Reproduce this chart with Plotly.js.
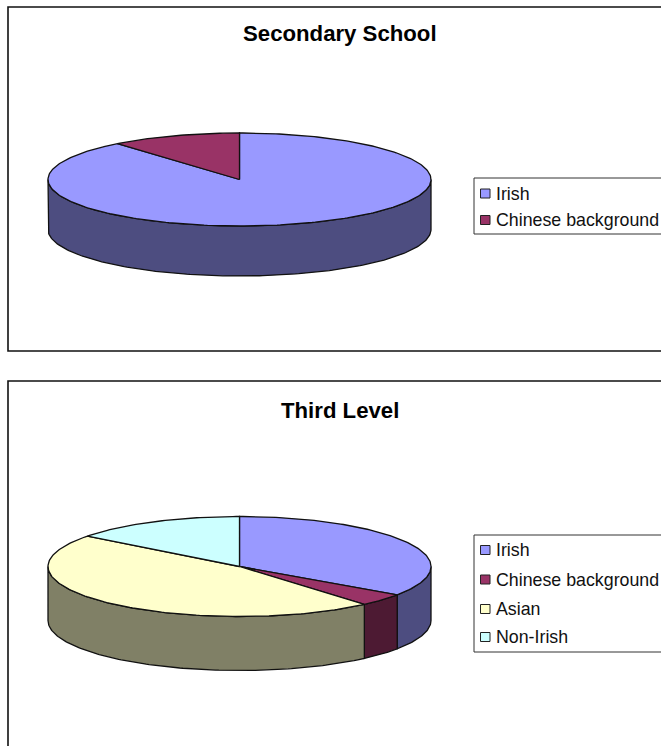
<!DOCTYPE html>
<html>
<head>
<meta charset="utf-8">
<script src="https://cdn.plot.ly/plotly-3.0.1.min.js"></script>
<style>html,body{margin:0;padding:0;background:#fff;overflow:hidden}#chart{width:661px;height:746px}</style>
</head>
<body>
<div id="chart"></div>
<script>
// Data
const secondaryCategories = ['Irish', 'Chinese background'];
const secondaryValues = [89, 11];
const thirdCategories = ['Irish', 'Chinese background', 'Asian', 'Non-Irish'];
const thirdValues = [34.6, 4.1, 46.7, 14.6];
const topColors = ['#9999FF', '#993366', '#FFFFCC', '#CCFFFF'];
const sideColors = ['#4D4D80', '#4D1A33', '#808066', '#668080'];

// Layout (pixel-valued axes)
const W = 661, H = 746;
const panels = [
  {title: 'Secondary School', titleY: 33, cats: secondaryCategories, vals: secondaryValues,
   cx: 239.5, cy: 179.5, rx: 191.5, ry: 46.5, depth: 50,
   frame: [8, 7, 351], legend: [474, 178, 234], rows: [193.5, 220]},
  {title: 'Third Level', titleY: 410, cats: thirdCategories, vals: thirdValues,
   cx: 239.5, cy: 566.5, rx: 191.5, ry: 50, depth: 54,
   frame: [8, 381, 760], legend: [474, 535, 652], rows: [550, 579.5, 609, 637]}
];

const traces = [], shapes = [], annotations = [];
const INK = '#111111';

function pt(p, deg, dz) {
  const a = deg * Math.PI / 180;
  return [p.cx + p.rx * Math.sin(a), p.cy - p.ry * Math.cos(a) + dz];
}
function arc(p, a0, a1, dz) {
  const out = [], n = Math.max(2, Math.ceil(Math.abs(a1 - a0)));
  for (let i = 0; i <= n; i++) out.push(pt(p, a0 + (a1 - a0) * i / n, dz));
  return out;
}
function add(points, color) {
  traces.push({type: 'scatter', mode: 'lines', fill: 'toself', fillcolor: color,
    x: points.map(q => q[0]), y: points.map(q => q[1]),
    line: {color: INK, width: 1.3}, hoverinfo: 'skip', showlegend: false});
}

panels.forEach(p => {
  const total = p.vals.reduce((s, v) => s + v, 0);
  const slices = [];
  let c = 0;
  p.vals.forEach((v, i) => {
    slices.push({i, a0: c / total * 360, a1: (c + v) / total * 360});
    c += v;
  });
  // side walls: only the front half (90..270 deg clockwise from top) shows
  slices.forEach(s => {
    const a0 = Math.max(s.a0, 90), a1 = Math.min(s.a1, 270);
    if (a1 <= a0) return;
    add(arc(p, a0, a1, 0).concat(arc(p, a1, a0, p.depth)).concat([pt(p, a0, 0)]), sideColors[s.i]);
  });
  // top faces
  slices.forEach(s => {
    add([[p.cx, p.cy]].concat(arc(p, s.a0, s.a1, 0)).concat([[p.cx, p.cy]]), topColors[s.i]);
  });

  // chart frame, running off the right edge
  const [fx, fy0, fy1] = p.frame;
  shapes.push({type: 'path', path: `M${W + 10},${fy0} L${fx},${fy0} L${fx},${fy1} L${W + 10},${fy1}`,
    line: {color: INK, width: 1.6}, layer: 'below'});
  annotations.push({x: 340, y: p.titleY, xref: 'x', yref: 'y', text: '<b>' + p.title + '</b>', showarrow: false,
    xanchor: 'center', yanchor: 'middle', font: {family: 'Liberation Sans, Arial, sans-serif', size: 22.2, color: '#000'}});

  // legend
  const [lx, ly0, ly1] = p.legend;
  shapes.push({type: 'path', path: `M${W + 10},${ly0} L${lx},${ly0} L${lx},${ly1} L${W + 10},${ly1}`,
    line: {color: '#333333', width: 1}, layer: 'below'});
  p.cats.forEach((name, i) => {
    const y = p.rows[i];
    shapes.push({type: 'rect', x0: 480.5, x1: 490, y0: y - 4.5, y1: y + 4.5, fillcolor: topColors[i],
      line: {color: '#222222', width: 1}, layer: 'below'});
    annotations.push({x: 494, y: y, xref: 'x', yref: 'y', text: name, showarrow: false,
      xanchor: 'left', yanchor: 'middle', font: {family: 'Liberation Sans, Arial, sans-serif', size: 17.8, color: '#111'}});
  });
});

const axis = {visible: false, fixedrange: true, autorange: false, showgrid: false, zeroline: false};
Plotly.newPlot('chart', traces, {
  width: W, height: H,
  margin: {l: 0, r: 0, t: 0, b: 0},
  paper_bgcolor: '#fff', plot_bgcolor: '#fff',
  xaxis: Object.assign({range: [0, W]}, axis),
  yaxis: Object.assign({range: [H, 0]}, axis),
  shapes, annotations, showlegend: false
}, {displayModeBar: false, staticPlot: true});
</script>
</body>
</html>
